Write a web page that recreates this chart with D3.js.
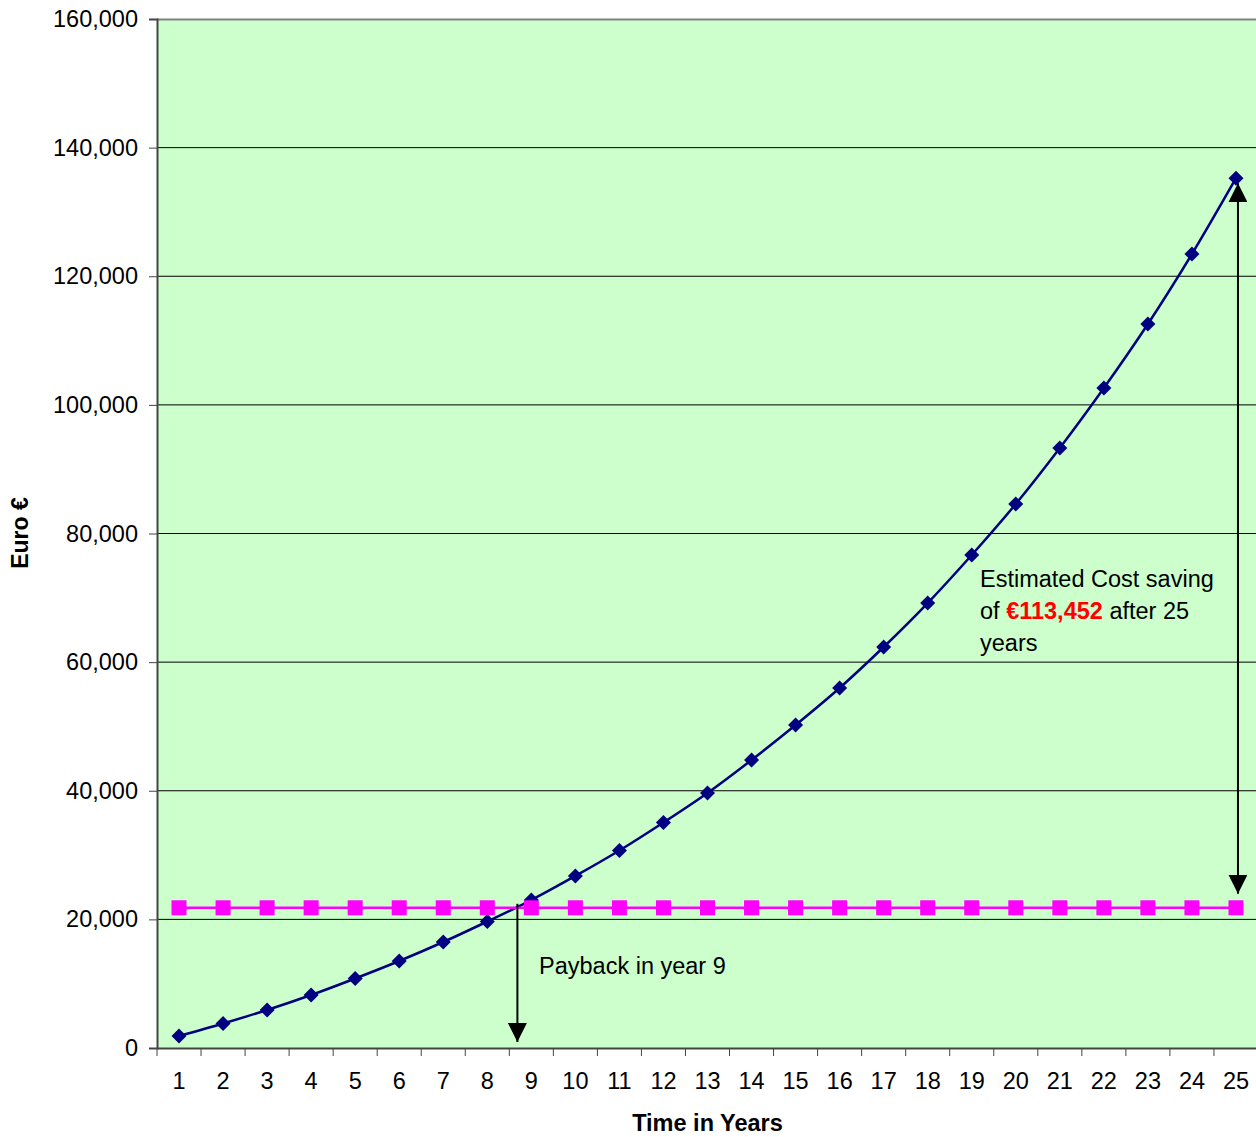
<!DOCTYPE html>
<html>
<head>
<meta charset="utf-8">
<script src="https://cdn.jsdelivr.net/npm/d3@7"></script>
<style>
  body { margin: 0; background: #fff; }
  text { font-family: "Liberation Sans", Arial, sans-serif; }
</style>
</head>
<body>
<svg id="chart"></svg>
<script>
// data
const years = d3.range(1, 26);
const savings = [1870, 3810, 5910, 8240, 10810, 13530, 16480, 19670, 23010, 26750,
  30710, 35060, 39650, 44780, 50220, 55980, 62350, 69190, 76660, 84590,
  93290, 102620, 112580, 123460, 135250];
const cost = years.map(() => 21800);
const yTicks = d3.range(0, 160001, 20000);
const paybackLabel = "Payback in year 9";
const savingLines = [["Estimated Cost saving"], ["of ", "€113,452", " after 25"], ["years"]];

const width = 1256, height = 1137;
const margin = { top: 19, right: -2, bottom: 89, left: 157 };
const w = width - margin.left - margin.right;
const h = height - margin.top - margin.bottom;

const svg = d3.select("#chart").attr("width", width).attr("height", height);

const x = d3.scaleBand().domain(years).range([0, w]);
const y = d3.scaleLinear().domain([0, 160000]).range([h, 0]);
const cx = (d) => x(d) + x.bandwidth() / 2;

const defs = svg.append("defs");
defs.append("marker")
  .attr("id", "head")
  .attr("markerUnits", "userSpaceOnUse")
  .attr("viewBox", "0 0 20 20")
  .attr("refX", 20).attr("refY", 10)
  .attr("markerWidth", 19).attr("markerHeight", 19)
  .attr("orient", "auto-start-reverse")
  .append("path").attr("d", "M0,0L20,10L0,20Z").attr("fill", "#000");

const g = svg.append("g").attr("transform", `translate(${margin.left},${margin.top})`);

g.append("rect").attr("width", w).attr("height", h).attr("fill", "#ccffcc");

// gridlines
g.append("g")
  .selectAll("line")
  .data(yTicks.filter((t) => t > 0 && t < 160000))
  .join("line")
  .attr("x1", 0).attr("x2", w)
  .attr("y1", (d) => y(d)).attr("y2", (d) => y(d))
  .attr("stroke", "#000").attr("stroke-width", 1);

g.append("line").attr("x1", 0).attr("x2", w).attr("y1", 0.5).attr("y2", 0.5)
  .attr("stroke", "#808080").attr("stroke-width", 2);

// y axis
const yAxis = g.append("g")
  .call(d3.axisLeft(y).tickValues(yTicks).tickSize(8).tickPadding(11).tickFormat(d3.format(",")));
yAxis.select(".domain").attr("stroke", "#444").attr("stroke-width", 2);
yAxis.selectAll(".tick line").attr("stroke", "#444");
yAxis.selectAll("text").attr("font-size", 23.5).attr("fill", "#000")
  .style("font-family", '"Liberation Sans", Arial, sans-serif');

// x axis
const xAxis = g.append("g").attr("transform", `translate(0,${h})`)
  .call(d3.axisBottom(x).tickSize(0).tickPadding(24));
xAxis.select(".domain").attr("stroke", "#444").attr("stroke-width", 2);
xAxis.selectAll("text").attr("font-size", 23.5).attr("fill", "#000")
  .style("font-family", '"Liberation Sans", Arial, sans-serif');
xAxis.append("g").selectAll("line")
  .data(years)
  .join("line")
  .attr("x1", (d) => x(d)).attr("x2", (d) => x(d))
  .attr("y1", 0).attr("y2", 8)
  .attr("stroke", "#444");

// axis titles
svg.append("text")
  .attr("x", margin.left + w / 2).attr("y", 1131)
  .attr("text-anchor", "middle").attr("font-size", 23.5).attr("font-weight", "bold")
  .text("Time in Years");
svg.append("text")
  .attr("transform", "translate(28,533) rotate(-90)")
  .attr("text-anchor", "middle").attr("font-size", 23).attr("font-weight", "bold")
  .text("Euro €");

// savings series
const line = d3.line().x((d, i) => cx(years[i])).y((d) => y(d)).curve(d3.curveCatmullRom.alpha(0.5));
g.append("path").datum(savings).attr("d", line)
  .attr("fill", "none").attr("stroke", "#000080").attr("stroke-width", 2.5);
g.append("g").selectAll("path")
  .data(savings)
  .join("path")
  .attr("transform", (d, i) => `translate(${cx(years[i])},${y(d)})`)
  .attr("d", "M0,-7.5L7.5,0L0,7.5L-7.5,0Z")
  .attr("fill", "#000080");

// cost series
const flat = d3.line().x((d, i) => cx(years[i])).y((d) => y(d));
g.append("path").datum(cost).attr("d", flat)
  .attr("fill", "none").attr("stroke", "#ff00ff").attr("stroke-width", 2.5);
g.append("g").selectAll("rect")
  .data(cost)
  .join("rect")
  .attr("x", (d, i) => cx(years[i]) - 7.5).attr("y", (d) => y(d) - 7.5)
  .attr("width", 15).attr("height", 15)
  .attr("fill", "#ff00ff");

// payback arrow at the crossing point
const k = savings.findIndex((v, i) => v >= cost[i]);
const t = (cost[k] - savings[k - 1]) / (savings[k] - savings[k - 1]);
const px = cx(years[k - 1]) + t * (cx(years[k]) - cx(years[k - 1])) + 2;
g.append("line")
  .attr("x1", px).attr("x2", px)
  .attr("y1", y(cost[k]) - 4).attr("y2", h - 6)
  .attr("stroke", "#000").attr("stroke-width", 2)
  .attr("marker-end", "url(#head)");
g.append("text")
  .attr("x", 382).attr("y", 955)
  .attr("font-size", 23.5)
  .text(paybackLabel);

// saving arrow at year 25
const last = years.length - 1;
const ax = cx(years[last]) + 2;
g.append("line")
  .attr("x1", ax).attr("x2", ax)
  .attr("y1", y(cost[last]) - 14).attr("y2", y(savings[last]) + 5)
  .attr("stroke", "#000").attr("stroke-width", 2)
  .attr("marker-start", "url(#head)").attr("marker-end", "url(#head)");

const note = g.append("text").attr("font-size", 23.5);
savingLines.forEach((parts, i) => {
  parts.forEach((p, j) => {
    const s = note.append("tspan").text(p);
    if (j === 0) s.attr("x", 823).attr("y", 568 + i * 32);
    if (p.startsWith("€")) s.attr("fill", "#ff0000").attr("font-weight", "bold");
  });
});
</script>
</body>
</html>
